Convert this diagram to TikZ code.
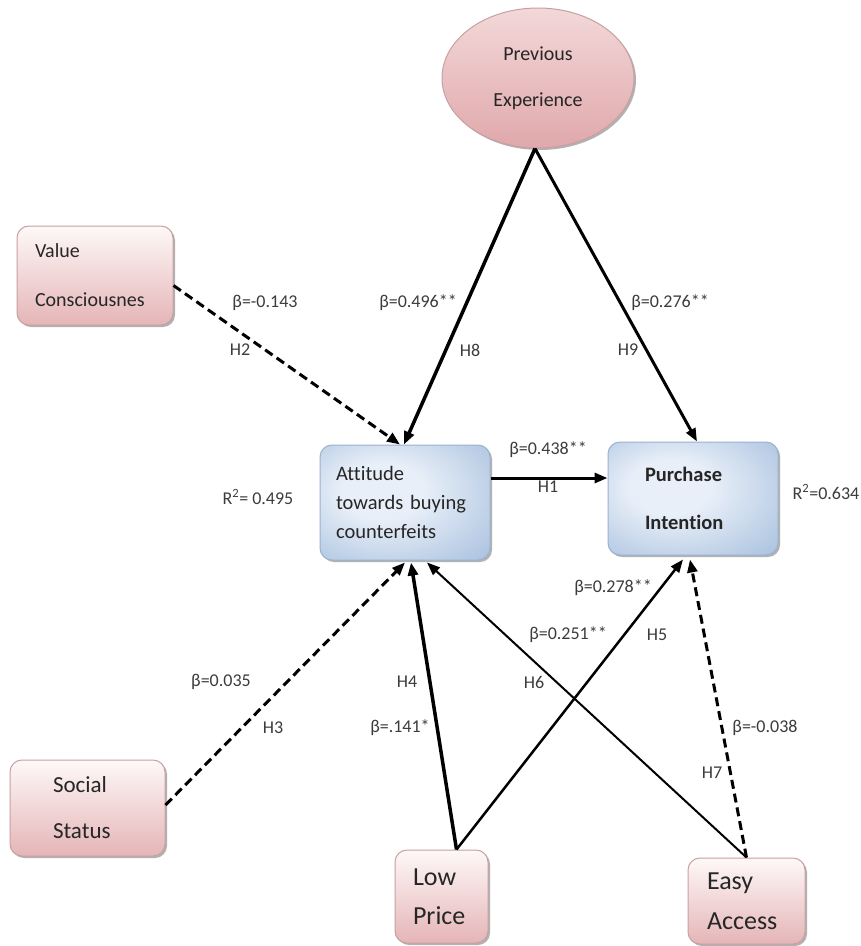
\documentclass[tikz,border=0pt]{standalone}
\usepackage{fontspec}
\setmainfont[Ligatures=NoCommon]{Carlito}
\usetikzlibrary{arrows.meta,shapes.geometric,shadows}
\definecolor{pinktop}{HTML}{FEF8F8}
\definecolor{pinkbot}{HTML}{E5B5B7}
\definecolor{pinkedge}{HTML}{C8A0A3}
\definecolor{elltop}{HTML}{F3D8D9}
\definecolor{ellbot}{HTML}{E0A8AB}
\definecolor{bluein}{HTML}{E8EFF8}
\definecolor{blueout}{HTML}{9DB8DA}
\definecolor{blueedge}{HTML}{9AB2CF}
\definecolor{labtext}{HTML}{3C3C3C}
\pgfdeclareradialshading{bluebox}{\pgfpoint{-8bp}{6bp}}{color(0bp)=(bluein);color(12bp)=(bluein);color(45bp)=(blueout);color(70bp)=(blueout)}
\begin{document}
\begin{tikzpicture}[x=1pt,y=-1pt,
  shadowed/.style={drop shadow={shadow xshift=2pt,shadow yshift=-2pt,fill=black!55,opacity=0.55}},
  pinkbox/.style={draw=pinkedge,line width=1pt,rounded corners=12pt,top color=pinktop,bottom color=pinkbot,shadowed,align=left,text=black!85,inner ysep=0pt},
  bluebox/.style={draw=blueedge,line width=1pt,rounded corners=12pt,shading=bluebox,shadowed,align=left,text=black!85,inner ysep=0pt},
  lab/.style={text=labtext,font=\fontsize{18}{20}\selectfont,inner sep=1pt},
  tip/.style={-{Triangle[length=13pt,width=10pt]}},
  solidarr/.style={tip,line width=#1},
  dasharr/.style={tip,line width=3pt,dash pattern=on 9pt off 5pt}
]
\useasboundingbox (0,0) rectangle (861,946);
\fill[white] (0,0) rectangle (861,946);

% nodes
\node[ellipse,draw=pinkedge,line width=1pt,top color=elltop,bottom color=ellbot,shadowed,
  minimum width=192pt,minimum height=140pt,inner sep=0pt,align=center,text=black!85,
  font=\fontsize{20}{46}\selectfont] (pe) at (538,78) {Previous\\Experience};

\node[pinkbox,minimum width=156pt,minimum height=99pt,text width=120pt,inner xsep=18pt,
  font=\fontsize{20}{49}\selectfont] (val) at (95,275.5) {Value\\Consciousnes};

\node[bluebox,minimum width=170pt,minimum height=115pt,text width=138pt,inner xsep=16pt,
  font=\fontsize{20.5}{29}\selectfont] (att) at (405,502.5) {Attitude\\towards buying\\counterfeits};

\node[bluebox,minimum width=170pt,minimum height=113pt,text width=96pt,inner xsep=37pt,
  font=\fontsize{20.5}{48}\selectfont\bfseries] (pi) at (693,498.5) {Purchase\\Intention};

\node[pinkbox,minimum width=155pt,minimum height=96pt,text width=69pt,inner xsep=43pt,
  font=\fontsize{23}{46}\selectfont] (soc) at (87.5,808) {Social\\Status};

\node[pinkbox,minimum width=93pt,minimum height=93pt,text width=57pt,inner xsep=18pt,
  font=\fontsize{26}{39}\selectfont] (lp) at (441.5,896.5) {Low\\Price};

\node[pinkbox,minimum width=117pt,minimum height=86pt,text width=79pt,inner xsep=19pt,
  font=\fontsize{26}{40}\selectfont] (ea) at (746.5,901) {Easy\\Access};

% connectors
\coordinate (apex) at ([xshift=-3pt]pe.south);
\draw[solidarr=3.5pt] (apex) -- ([xshift=-1pt]att.north);
\draw[solidarr=3pt] (apex) -- ([xshift=4pt]pi.north);
\draw[dasharr] ([yshift=-10pt]val.east) -- ([xshift=-5pt]att.north);
\draw[solidarr=3pt] ([yshift=24.5pt]att.east) -- ([yshift=20.5pt]pi.west);
\draw[dasharr] ([yshift=3pt]soc.east) -- ([xshift=0pt,yshift=-2pt]att.south);
\draw[solidarr=3.5pt] ([xshift=15pt]lp.north) -- ([xshift=6pt,yshift=-2pt]att.south);
\draw[solidarr=2.5pt] ([xshift=15pt]lp.north) -- ([xshift=-10pt,yshift=-4pt]pi.south);
\draw[solidarr=2pt] (ea.north) -- ([xshift=22pt,yshift=-2pt]att.south);
\draw[dasharr] (ea.north) -- ([xshift=-3pt,yshift=-4pt]pi.south);

% labels
\node[lab] (l2b) at (265,303) {β=-0.143};
\node[lab] (l2h) at (240,350) {H2};
\node[lab] (l8b) at (418,303) {β=0.496**};
\node[lab] (l8h) at (470,350) {H8};
\node[lab] (l9b) at (670,303) {β=0.276**};
\node[lab] (l9h) at (628,350) {H9};
\node[lab] (l1b) at (548,450) {β=0.438**};
\node[lab] (l1h) at (548,487) {H1};
\node[lab] (r1) at (258,497) {R\textsuperscript{2}= 0.495};
\node[lab] (r2) at (826,492) {R\textsuperscript{2}=0.634};
\node[lab] (l5b) at (613,588) {β=0.278**};
\node[lab] (l5h) at (657,635) {H5};
\node[lab] (l6b) at (568,635) {β=0.251**};
\node[lab] (l6h) at (534,682) {H6};
\node[lab] (l4h) at (407,682) {H4};
\node[lab] (l4b) at (400,728) {β=.141*};
\node[lab] (l3b) at (221,682) {β=0.035};
\node[lab] (l3h) at (273,728) {H3};
\node[lab] (l7b) at (765,728) {β=-0.038};
\node[lab] (l7h) at (712,773) {H7};
\end{tikzpicture}
\end{document}
